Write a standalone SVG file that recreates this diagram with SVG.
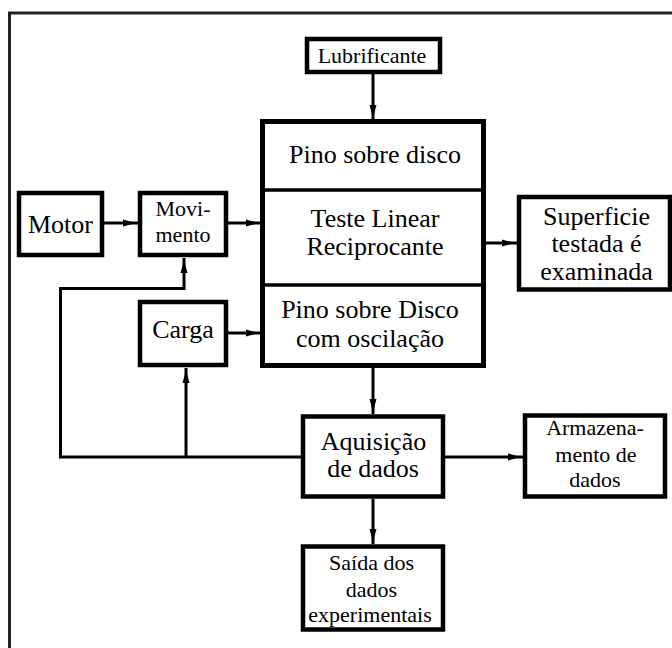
<svg xmlns="http://www.w3.org/2000/svg" width="672" height="648" viewBox="0 0 672 648">
<style>
.box{fill:#fff;stroke:#000;stroke-width:4.5}
.mbox{fill:#fff;stroke:#000;stroke-width:5}
.div{stroke:#000;stroke-width:3.5}
.c{fill:none;stroke:#000;stroke-width:3}
text{font-family:'Liberation Serif','Times New Roman',serif;fill:#000;text-anchor:middle}
.L{font-size:26px}
.S{font-size:22px}
</style>
<defs>
<marker id="ah" markerUnits="userSpaceOnUse" markerWidth="18" markerHeight="10" viewBox="0 -5 18 10" refX="17" refY="0" orient="auto">
<path d="M2,-3.5 L15,0 L2,3.5 z" fill="#000"/>
</marker>
</defs>
<rect width="672" height="648" fill="#fff"/>
<g id="frame"><path d="M672,13 H9.5 V648" fill="none" stroke="#222" stroke-width="3"/></g>
<g id="connectors">
<path class="c" d="M373,74 V120" marker-end="url(#ah)"/>
<path class="c" d="M104,223 H138" marker-end="url(#ah)"/>
<path class="c" d="M228,223 H261" marker-end="url(#ah)"/>
<path class="c" d="M228,333 H261" marker-end="url(#ah)"/>
<path class="c" d="M486,243 H517" marker-end="url(#ah)"/>
<path class="c" d="M373,368 V414" marker-end="url(#ah)"/>
<path class="c" d="M445,457 H523" marker-end="url(#ah)"/>
<path class="c" d="M373,499 V544" marker-end="url(#ah)"/>
<path class="c" d="M301,457 H60.5 V288.5 H184 V258" marker-end="url(#ah)"/>
<path class="c" d="M186,457 V368" marker-end="url(#ah)"/>
</g>
<g id="lubrificante">
<rect class="box" x="307" y="39" width="133" height="33"/>
<text class="S" x="372" y="63">Lubrificante</text>
</g>
<g id="main">
<rect class="mbox" x="262.5" y="121.5" width="221" height="244"/>
<line class="div" x1="262.5" y1="190" x2="483.5" y2="190"/>
<line class="div" x1="262.5" y1="285" x2="483.5" y2="285"/>
<text class="L" x="375" y="163">Pino sobre disco</text>
<text class="L" x="375" y="227">Teste Linear</text>
<text class="L" x="375" y="255">Reciprocante</text>
<text class="L" x="370" y="318">Pino sobre Disco</text>
<text class="L" x="370" y="347">com oscilação</text>
</g>
<g id="motor">
<rect class="box" x="19" y="193" width="83" height="62"/>
<text class="L" x="60.5" y="233">Motor</text>
</g>
<g id="movimento">
<rect class="box" x="140" y="193" width="86" height="62"/>
<text class="S" x="183" y="216">Movi-</text>
<text class="S" x="183" y="242">mento</text>
</g>
<g id="carga">
<rect class="box" x="140" y="302" width="86" height="63"/>
<text class="L" x="183" y="338">Carga</text>
</g>
<g id="superficie">
<rect class="box" x="519" y="197" width="151" height="92.5"/>
<text class="L" x="596.5" y="225">Superficie</text>
<text class="L" x="596.5" y="252">testada é</text>
<text class="L" x="596.5" y="280">examinada</text>
</g>
<g id="aquisicao">
<rect class="box" x="303" y="416.5" width="140" height="80"/>
<text class="L" x="373.5" y="450">Aquisição</text>
<text class="L" x="373" y="477">de dados</text>
</g>
<g id="armazenamento">
<rect class="box" x="525" y="415.5" width="140" height="81"/>
<text class="S" x="595" y="435">Armazena-</text>
<text class="S" x="596" y="462">mento de</text>
<text class="S" x="595" y="487">dados</text>
</g>
<g id="saida">
<rect class="box" x="303" y="546.5" width="140" height="83"/>
<text class="S" x="371.5" y="570">Saída dos</text>
<text class="S" x="371.5" y="597">dados</text>
<text class="S" x="370" y="622">experimentais</text>
</g>
</svg>
